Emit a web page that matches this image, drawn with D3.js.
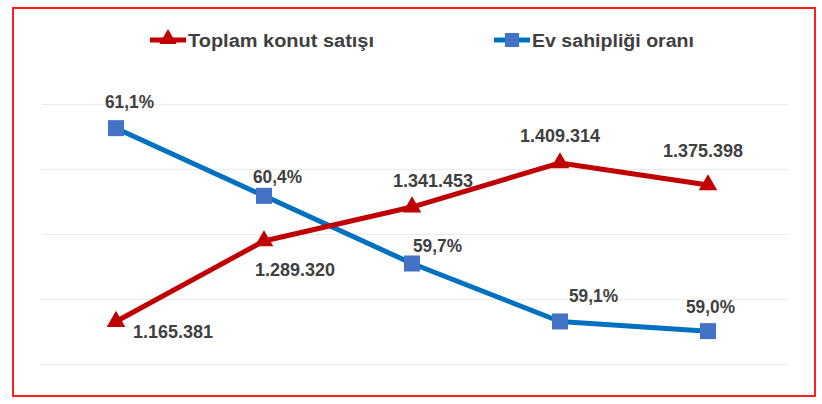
<!DOCTYPE html>
<html>
<head>
<meta charset="utf-8">
<script src="https://cdn.jsdelivr.net/npm/d3@7"></script>
<style>
  html, body { margin: 0; padding: 0; background: #fff; }
  svg { display: block; }
</style>
</head>
<body>
<svg id="chart" width="822" height="404"></svg>
<script>
// ── DATA ──────────────────────────────────────────────
const years = ['2014', '2015', '2016', '2017', '2018'];
const sales = [1165381, 1289320, 1341453, 1409314, 1375398];      // Toplam konut satışı
const ownership = [61.1, 60.4, 59.7, 59.1, 59.0];                // Ev sahipliği oranı (%)
const seriesNames = ['Toplam konut satışı', 'Ev sahipliği oranı'];

const RED = '#C00000', BLUE = '#0070C0', SQUARE = '#4472C4', TXT = '#404040';
const FONT = "'Liberation Sans', Arial, sans-serif";

const fmtSales = d => d3.format(',')(d).replace(/,/g, '.');
const fmtPct = d => d.toFixed(1).replace('.', ',') + '%';

const svg = d3.select('#chart');

// cadre rouge
svg.append('rect')
  .attr('x', 13).attr('y', 8).attr('width', 802).attr('height', 388)
  .attr('fill', '#fff').attr('stroke', '#FF1E1E').attr('stroke-width', 2);

// ── SCALES ────────────────────────────────────────────
const x = d3.scalePoint().domain(years).range([116, 708]);
const yS = d3.scaleLinear().domain([1100000, 1500000]).range([364, 104]);
const yP = d3.scaleLinear().domain([58.66, 61.35]).range([364, 104]);

// grille horizontale
svg.append('g')
  .attr('transform', 'translate(42,0)')
  .call(d3.axisLeft(yS).ticks(4).tickSize(-746).tickFormat(''))
  .call(g => g.select('.domain').remove())
  .call(g => g.selectAll('line').attr('stroke', '#ebebeb').attr('stroke-width', 1));

// ── LINES ─────────────────────────────────────────────
const lineS = d3.line().x((d, i) => x(years[i])).y(d => yS(d));
const lineP = d3.line().x((d, i) => x(years[i])).y(d => yP(d));

svg.append('path').datum(ownership)
  .attr('fill', 'none').attr('stroke', BLUE).attr('stroke-width', 5)
  .attr('stroke-linejoin', 'round').attr('d', lineP);

svg.append('path').datum(sales)
  .attr('fill', 'none').attr('stroke', RED).attr('stroke-width', 5)
  .attr('stroke-linejoin', 'round').attr('d', lineS);

// markers
const tri = d3.symbol(d3.symbolTriangle, 150);
svg.selectAll('.tri').data(sales).enter().append('path')
  .attr('transform', (d, i) => `translate(${x(years[i])},${yS(d)})`)
  .attr('d', tri).attr('fill', RED);

svg.selectAll('.sq').data(ownership).enter().append('rect')
  .attr('x', (d, i) => x(years[i]) - 8).attr('y', d => yP(d) - 8)
  .attr('width', 16).attr('height', 16).attr('fill', SQUARE);

// ── DATA LABELS ───────────────────────────────────────
const salesOff = [[17, 16], [-9, 35], [-19, -20], [-40, -21], [-45, -28]];
const pctOff = [[-11, -20], [-11, -13], [1, -11], [9, -19], [-22, -18]];

svg.selectAll('.ls').data(sales).enter().append('text')
  .attr('x', (d, i) => x(years[i]) + salesOff[i][0])
  .attr('y', (d, i) => yS(d) + salesOff[i][1])
  .attr('font-family', FONT).attr('font-size', 18).attr('font-weight', 700)
  .attr('textLength', 80).attr('lengthAdjust', 'spacingAndGlyphs')
  .attr('fill', TXT).text(fmtSales);

svg.selectAll('.lp').data(ownership).enter().append('text')
  .attr('x', (d, i) => x(years[i]) + pctOff[i][0])
  .attr('y', (d, i) => yP(d) + pctOff[i][1])
  .attr('font-family', FONT).attr('font-size', 18).attr('font-weight', 700)
  .attr('textLength', 49).attr('lengthAdjust', 'spacingAndGlyphs')
  .attr('fill', TXT).text(fmtPct);

// ── LEGEND ────────────────────────────────────────────
const leg = [
  { x: 150, color: RED, mark: 'tri', w: 186 },
  { x: 494, color: BLUE, mark: 'sq', w: 162 }
];
leg.forEach((l, i) => {
  const g = svg.append('g').attr('transform', `translate(${l.x},40)`);
  g.append('line').attr('x1', 0).attr('x2', 36).attr('y1', 0).attr('y2', 0)
    .attr('stroke', l.color).attr('stroke-width', 5);
  if (l.mark === 'tri') {
    g.append('path').attr('transform', 'translate(18,-1)')
      .attr('d', d3.symbol(d3.symbolTriangle, 130)).attr('fill', RED);
  } else {
    g.append('rect').attr('x', 11).attr('y', -7).attr('width', 14).attr('height', 14)
      .attr('fill', SQUARE);
  }
  g.append('text').attr('x', 38).attr('y', 6.5)
    .attr('font-family', FONT).attr('font-size', 18).attr('font-weight', 700)
    .attr('textLength', l.w).attr('lengthAdjust', 'spacingAndGlyphs')
    .attr('fill', TXT).text(seriesNames[i]);
});
</script>
</body>
</html>
